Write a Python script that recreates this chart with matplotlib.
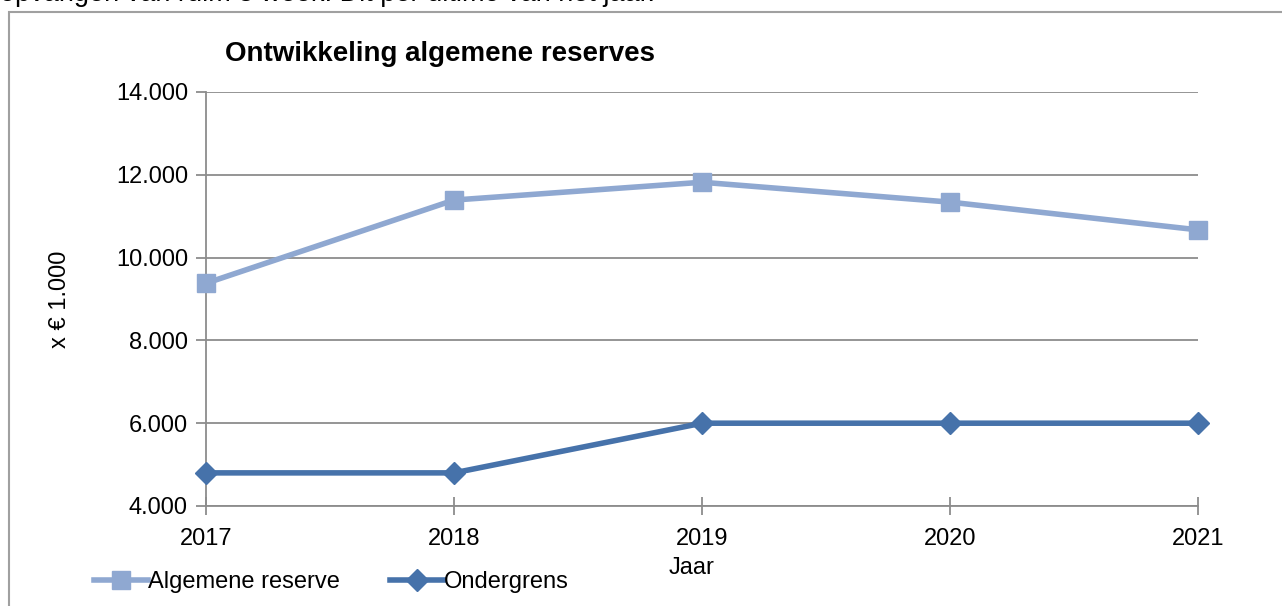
import matplotlib.pyplot as plt
from matplotlib.patches import Rectangle
from matplotlib.ticker import FuncFormatter

plt.rcParams["font.family"] = ["Liberation Sans", "DejaVu Sans"]

# data (x € 1.000)
jaren = [2017, 2018, 2019, 2020, 2021]
algemene_reserve = [9380, 11390, 11820, 11340, 10670]
ondergrens = [4800, 4800, 6000, 6000, 6000]

fig = plt.figure(figsize=(12.82, 6.06), dpi=100)

# frame around the chart (cut off at the right and bottom)
fig.patches.append(Rectangle((9 / 1282, -0.05), 1.1, 1 - 12 / 606 + 0.05,
                             transform=fig.transFigure, fill=False,
                             edgecolor="#a0a0a0", linewidth=1.5))

# cropped line of body text above the chart
fig.text(0.0, 1 - 1 / 606, "opvangen van ruim 3 week. Dit per ultimo van het jaar.",
         fontsize=19.5, va="baseline", ha="left", color="black")

ax = fig.add_axes([206 / 1282, 1 - 506 / 606, (1198 - 206) / 1282, (506 - 92) / 606])

ax.plot(jaren, algemene_reserve, color="#8FA8D1", linewidth=4,
        marker="s", markersize=13, label="Algemene reserve", clip_on=False, zorder=3)
ax.plot(jaren, ondergrens, color="#4672AA", linewidth=4,
        marker="D", markersize=11, label="Ondergrens", clip_on=False, zorder=4)

ax.set_xlim(2017, 2021)
ax.set_ylim(4000, 14000)
ax.set_xticks(jaren)
ax.set_yticks(range(4000, 14001, 2000))
ax.yaxis.set_major_formatter(FuncFormatter(lambda v, p: f"{int(v):,}".replace(",", ".")))

ax.grid(axis="y", color="#8c8c8c", linewidth=1.3)
ax.set_axisbelow(True)
for s in ["top", "right"]:
    ax.spines[s].set_visible(False)
for s in ["left", "bottom"]:
    ax.spines[s].set_color("#8c8c8c")
    ax.spines[s].set_linewidth(1.3)

ax.tick_params(axis="y", direction="out", length=7, width=1.3, color="#8c8c8c",
               labelsize=17, pad=6)
ax.tick_params(axis="x", direction="inout", length=13, width=1.3, color="#8c8c8c",
               labelsize=17, pad=9)

ax.set_xlabel("Jaar", fontsize=17)
ax.xaxis.set_label_coords((692 - 206) / 992, (506 - 557) / 414)
ax.set_ylabel("x € 1.000", fontsize=17)
ax.yaxis.set_label_coords((71 - 206) / 992, 0.5)

fig.text(440 / 1282, 1 - 54 / 606, "Ontwikkeling algemene reserves",
         fontsize=20, fontweight="bold", ha="center", va="center")

leg = fig.legend(loc="center left", bbox_to_anchor=(82 / 1282, 1 - 582 / 606),
                 ncol=2, frameon=False, fontsize=17, handlelength=2.3,
                 handletextpad=0.0, columnspacing=2.1, borderpad=0)

fig.savefig("out.png", dpi=100)
